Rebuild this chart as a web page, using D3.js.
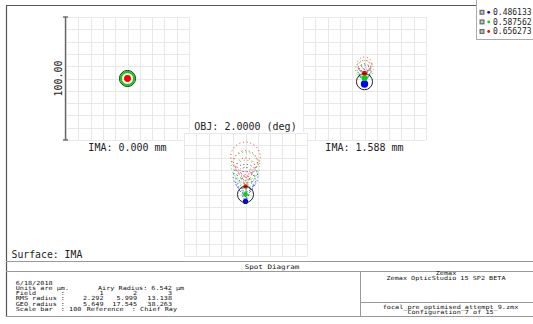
<!DOCTYPE html>
<html>
<head>
<meta charset="utf-8">
<script src="https://cdn.jsdelivr.net/npm/d3@7"></script>
<style>
  html, body { margin: 0; padding: 0; background: #fff; overflow: hidden; }
  svg { display: block; }
  text { font-family: 'DejaVu Sans Mono', monospace; fill: #222; }
</style>
</head>
<body>
<svg id="chart"></svg>
<script>
// ── DATA ────────────────────────────────────────────
const FIELD_LABELS = ['IMA: 0.000 mm', 'IMA: 1.588 mm', 'OBJ: 2.0000 (deg)'];
const FIELD_NUMS   = ['1', '2', '3'];
const WAVELENGTHS  = ['0.486133', '0.587562', '0.656273'];
const RMS_RADIUS   = ['2.292', '5.999', '13.138'];
const GEO_RADIUS   = ['5.649', '17.545', '38.263'];
const AIRY_RADIUS  = 6.542;      // µm
const SCALE_BAR    = 100;        // µm, full panel height

// airy circle centre per field: [field, cy µm]
const AIRY_CENTERS = [[0, 0], [1, -2.6], [2, 0]];

// dense ray clusters drawn as filled dots: [field, wave, cy µm, r µm]
const CORES = [
  [0, 0, 0, 2.4], [0, 2, 0, 2.8],
  [1, 0, -4.5, 3.0], [1, 1, 0.4, 2.4], [1, 2, 4.3, 2.0],
  [2, 0, -5.6, 2.2], [2, 1, 0, 2.0], [2, 2, 6.6, 1.8]
];

// pupil rings that look solid: [field, wave, cy µm, r µm]
const DENSE_RINGS = [[0, 1, 0, 5.3]];

// sparse pupil rings (dotted): [field, wave, cy µm, r µm]
const RINGS = [
  [1, 0, 5.5, 5.2], [1, 0, 3.4, 4.0], [1, 0, 1.5, 3.0], [1, 0, -2.0, 1.6],
  [1, 1, 7.5, 7.2], [1, 1, 6.0, 5.8], [1, 1, 4.6, 4.4], [1, 1, 2.3, 2.2],
  [1, 2, 11.5, 6.0], [1, 2, 9.8, 5.0], [1, 2, 8.0, 4.0], [1, 2, 5.8, 2.2],
  [2, 0, 14.5, 10.0], [2, 0, 10.7, 8.1], [2, 0, 7.3, 6.4], [2, 0, 2.9, 4.2], [2, 0, -0.5, 2.5], [2, 0, -3.1, 1.2],
  [2, 1, 23.0, 11.5], [2, 1, 18.6, 9.3], [2, 1, 14.8, 7.4], [2, 1, 9.8, 4.9], [2, 1, 5.8, 2.9], [2, 1, 2.8, 1.4],
  [2, 2, 30.6, 12.0], [2, 2, 26.0, 9.7], [2, 2, 22.0, 7.7], [2, 2, 16.8, 5.1], [2, 2, 12.6, 3.0], [2, 2, 9.6, 1.5]
];

const waveColor = ['#0000ff', '#00d800', '#ff0000'];

// ── LAYOUT ──────────────────────────────────────────
const W = 533, H = 324;
const PANEL = 123;
const panelPos = [[66, 17], [303, 17], [184, 133]];
const gridC = '#e8e8e8';

const svg = d3.select('#chart').attr('width', W).attr('height', H);

// outer frame (top + left darker)
svg.append('line').attr('x1', 6).attr('x2', 540).attr('y1', 5.5).attr('y2', 5.5)
  .attr('stroke', '#555').attr('stroke-width', 1.2);
svg.append('line').attr('x1', 6.5).attr('x2', 6.5).attr('y1', 5.5).attr('y2', 317)
  .attr('stroke', '#555').attr('stroke-width', 1.2);

// ── PANELS ──────────────────────────────────────────
panelPos.forEach(([x0, y0], fi) => {
  const g = svg.append('g');
  const x = d3.scaleLinear().domain([-SCALE_BAR / 2, SCALE_BAR / 2]).range([x0, x0 + PANEL]);
  const y = d3.scaleLinear().domain([-SCALE_BAR / 2, SCALE_BAR / 2]).range([y0 + PANEL, y0]);
  const rpx = r => x(r) - x(0);

  g.append('rect').attr('x', x0 - 1).attr('y', y0 - 1)
    .attr('width', PANEL + 2).attr('height', PANEL + 2).attr('fill', '#fff');

  g.selectAll('line.v').data(x.ticks(10)).enter().append('line')
    .attr('x1', d => Math.round(x(d)) + 0.5).attr('x2', d => Math.round(x(d)) + 0.5)
    .attr('y1', y0).attr('y2', y0 + PANEL)
    .attr('stroke', gridC).attr('stroke-width', 1);
  g.selectAll('line.h').data(y.ticks(10)).enter().append('line')
    .attr('y1', d => Math.round(y(d)) + 0.5).attr('y2', d => Math.round(y(d)) + 0.5)
    .attr('x1', x0).attr('x2', x0 + PANEL)
    .attr('stroke', gridC).attr('stroke-width', 1);

  // dotted rings, blue → red
  [0, 1, 2].forEach(wi => {
    g.selectAll(null).data(RINGS.filter(d => d[0] === fi && d[1] === wi)).enter().append('circle')
      .attr('cx', x(0)).attr('cy', d => y(d[2])).attr('r', d => rpx(d[3]))
      .attr('fill', 'none').attr('stroke', waveColor[wi])
      .attr('stroke-width', 0.9).attr('stroke-dasharray', '0.9,2.8');
    g.selectAll(null).data(DENSE_RINGS.filter(d => d[0] === fi && d[1] === wi)).enter().append('circle')
      .attr('cx', x(0)).attr('cy', d => y(d[2])).attr('r', d => rpx(d[3]))
      .attr('fill', 'none').attr('stroke', waveColor[wi]).attr('stroke-width', 2);
    g.selectAll(null).data(CORES.filter(d => d[0] === fi && d[1] === wi)).enter().append('circle')
      .attr('cx', x(0)).attr('cy', d => y(d[2])).attr('r', d => rpx(d[3]))
      .attr('fill', waveColor[wi]);
  });

  // airy disk
  AIRY_CENTERS.filter(d => d[0] === fi).forEach(d => {
    g.append('circle').attr('cx', x(0)).attr('cy', y(d[1])).attr('r', rpx(AIRY_RADIUS))
      .attr('fill', 'none').attr('stroke', '#222').attr('stroke-width', 1);
  });

  // field label
  g.append('text')
    .attr('x', x(0)).attr('y', fi === 2 ? y0 - 7 : y0 + PANEL + 7)
    .attr('dy', '0.35em').attr('text-anchor', 'middle').attr('font-size', '10px')
    .text(FIELD_LABELS[fi]);

  // scale bar on the first panel
  if (fi === 0) {
    const bx = x0 - 0.5;
    g.append('line').attr('x1', bx).attr('x2', bx).attr('y1', y(50)).attr('y2', y(-50))
      .attr('stroke', '#666').attr('stroke-width', 1.4);
    [50, -50].forEach(v => {
      g.append('line').attr('x1', bx - 2.5).attr('x2', bx + 2.5).attr('y1', y(v)).attr('y2', y(v))
        .attr('stroke', '#666').attr('stroke-width', 1.4);
    });
    g.append('text')
      .attr('transform', `translate(${x0 - 8},${y(0)}) rotate(-90)`)
      .attr('dy', '0.35em').attr('text-anchor', 'middle').attr('font-size', '10px')
      .text(d3.format('.2f')(SCALE_BAR));
  }
});

// ── LEGEND ──────────────────────────────────────────
svg.append('rect').attr('x', 476.5).attr('y', -1).attr('width', 70).attr('height', 40.5)
  .attr('fill', '#fff').attr('stroke', '#aaa');
WAVELENGTHS.forEach((w, i) => {
  const cy = 12.3 + i * 9.6;
  svg.append('rect').attr('x', 479.5).attr('y', cy - 2.5).attr('width', 5).attr('height', 5)
    .attr('fill', '#6a6a6a');
  svg.append('rect').attr('x', 480.7).attr('y', cy - 1.3).attr('width', 2.6).attr('height', 2.6)
    .attr('fill', '#b8c8b8');
  svg.append('circle').attr('cx', 488.7).attr('cy', cy).attr('r', 1.4).attr('fill', waveColor[i]);
  svg.append('text').attr('x', 493).attr('y', cy).attr('dy', '0.35em')
    .attr('font-size', '8px').text(w);
});

// ── FOOTER ──────────────────────────────────────────
svg.append('text').attr('x', 11.5).attr('y', 255).attr('dy', '0.35em')
  .attr('font-size', '9.8px').text('Surface: IMA');

const lineC = '#999';
[[6, 540, 261.5, 261.5], [6, 540, 271.5, 271.5], [6, 540, 316.5, 316.5],
 [360.5, 360.5, 271.5, 316.5], [360.5, 540, 302.5, 302.5]].forEach(([x1, x2, y1, y2]) => {
  svg.append('line').attr('x1', x1).attr('x2', x2).attr('y1', y1).attr('y2', y2)
    .attr('stroke', lineC).attr('stroke-width', 1);
});

// small wide print of the Zemax text boxes
const small = (x, y, t, anchor, size) => svg.append('text')
  .attr('transform', `translate(${x},${y}) scale(1.22,1)`)
  .attr('dy', '0.36em').style('fill', '#111')
  .attr('text-anchor', anchor || 'start').attr('font-size', (size || 5.6) + 'px')
  .style('white-space', 'pre').text(t);

small(272, 266.3, 'Spot Diagram', 'middle', 6.2);

small(15.7, 282.7, '6/18/2018');
small(15.7, 288.0, 'Units are µm.');
small(98, 288.0, 'Airy Radius: ' + AIRY_RADIUS.toFixed(3) + ' µm');
small(15.7, 293.3, 'Field      :');
small(15.7, 298.4, 'RMS radius :');
small(15.7, 303.5, 'GEO radius :');
small(15.7, 308.7, 'Scale bar  : ' + SCALE_BAR);
small(86.7, 308.7, 'Reference  : Chief Ray');
const colX = [103.5, 137, 172];
colX.forEach((cx, i) => {
  small(cx, 293.3, FIELD_NUMS[i], 'end');
  small(cx, 298.4, RMS_RADIUS[i], 'end');
  small(cx, 303.5, GEO_RADIUS[i], 'end');
});

small(446, 272.7, 'Zemax', 'middle');
small(446, 278.0, 'Zemax OpticStudio 15 SP2 BETA', 'middle');
small(450.5, 306.8, 'focal_pre_optimised_attempt_9.zmx', 'middle');
small(450.5, 312.1, 'Configuration 7 of 15', 'middle');
</script>
</body>
</html>
